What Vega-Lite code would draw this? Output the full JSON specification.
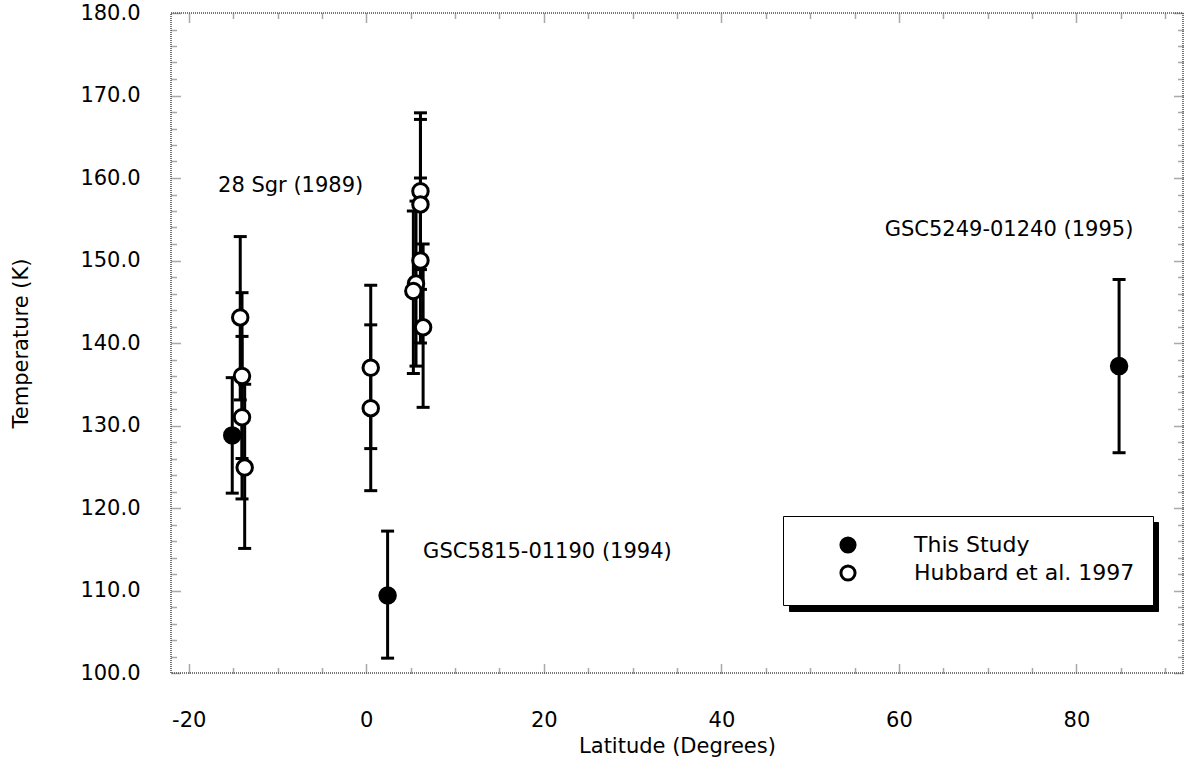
{
  "$schema": "https://vega.github.io/schema/vega-lite/v6.json",
  "width": 1012,
  "height": 660,
  "autosize": {"type": "none"},
  "padding": {"left": 171, "top": 13, "right": 5, "bottom": 96},
  "background": "white",
  "config": {
    "view": {"stroke": "#777", "strokeWidth": 2, "strokeDash": [1, 1]},
    "font": "DejaVu Sans"
  },
  "datasets": {
    "obs": [
      {"lat": -15.1, "temp": 128.8, "lo": 121.8, "hi": 135.8, "source": "This Study", "shade": "s1"},
      {"lat": 2.4, "temp": 109.4, "lo": 101.8, "hi": 117.2, "source": "This Study", "shade": "s1"},
      {"lat": 84.8, "temp": 137.2, "lo": 126.7, "hi": 147.7, "source": "This Study", "shade": "s1"},
      {"lat": -14.2, "temp": 143.1, "lo": 133.1, "hi": 152.9, "source": "Hubbard et al. 1997", "shade": "s2"},
      {"lat": -14.0, "temp": 136.0, "lo": 126.0, "hi": 146.1, "source": "Hubbard et al. 1997", "shade": "s2"},
      {"lat": -14.0, "temp": 131.0, "lo": 121.1, "hi": 140.8, "source": "Hubbard et al. 1997", "shade": "s2"},
      {"lat": -13.7, "temp": 124.9, "lo": 115.1, "hi": 135.0, "source": "Hubbard et al. 1997", "shade": "s2"},
      {"lat": 0.5, "temp": 137.0, "lo": 127.2, "hi": 147.0, "source": "Hubbard et al. 1997", "shade": "s2"},
      {"lat": 0.5, "temp": 132.1, "lo": 122.1, "hi": 142.2, "source": "Hubbard et al. 1997", "shade": "s2"},
      {"lat": 6.1, "temp": 158.4, "lo": 148.9, "hi": 167.9, "source": "Hubbard et al. 1997", "shade": "s2"},
      {"lat": 6.1, "temp": 156.8, "lo": 146.5, "hi": 167.1, "source": "Hubbard et al. 1997", "shade": "s2"},
      {"lat": 6.1, "temp": 150.0, "lo": 140.0, "hi": 160.0, "source": "Hubbard et al. 1997", "shade": "s2"},
      {"lat": 5.6, "temp": 147.2, "lo": 137.2, "hi": 157.2, "source": "Hubbard et al. 1997", "shade": "s2"},
      {"lat": 5.3, "temp": 146.3, "lo": 136.3, "hi": 156.0, "source": "Hubbard et al. 1997", "shade": "s2"},
      {"lat": 6.4, "temp": 141.9, "lo": 132.2, "hi": 152.0, "source": "Hubbard et al. 1997", "shade": "s2"}
    ],
    "notes": [
      {"label": "28 Sgr (1989)", "lat": -16.7, "temp": 159.0},
      {"label": "GSC5815-01190 (1994)", "lat": 6.4, "temp": 114.7},
      {"label": "GSC5249-01240 (1995)", "lat": 58.4, "temp": 153.7}
    ]
  },
  "layer": [
    {
      "data": {"name": "obs"},
      "mark": {"type": "point", "shape": "circle", "opacity": 0},
      "encoding": {
        "x": {"field": "lat", "type": "quantitative", "scale": {"domain": [-22, 92], "nice": false, "zero": false}, "axis": null},
        "y": {"field": "temp", "type": "quantitative", "scale": {"domain": [100, 180], "nice": false, "zero": false}, "axis": null},
        "color": {
          "field": "shade", "type": "nominal",
          "scale": {"domain": ["s1", "s2"], "range": ["black", "black"]},
          "legend": {
            "orient": "none", "legendX": 618, "legendY": 509, "title": null,
            "labelExpr": "'\u00a0\u00a0\u00a0\u00a0'",
            "labelLimit": 500,
            "padding": 18, "fillColor": "black", "strokeColor": "black",
            "labelFontSize": 22, "labelFont": "DejaVu Sans", "labelColor": "black",
            "symbolType": "circle", "symbolSize": 200, "symbolStrokeWidth": 3,
            "symbolOffset": 36, "labelOffset": 275, "rowPadding": 0
          }
        }
      }
    },
    {
      "data": {"name": "obs"},
      "mark": {"type": "errorbar", "color": "black", "opacity": 1, "thickness": 3, "size": 13, "ticks": {"size": 13, "thickness": 3, "color": "black", "opacity": 1}, "rule": {"strokeWidth": 3, "color": "black", "opacity": 1}},
      "encoding": {
        "x": {
          "field": "lat", "type": "quantitative",
          "scale": {"domain": [-22, 92], "nice": false, "zero": false},
          "axis": {
            "values": [-20, -15, -10, -5, 0, 5, 10, 15, 20, 25, 30, 35, 40, 45, 50, 55, 60, 65, 70, 75, 80, 85, 90],
            "labelExpr": "datum.value % 20 === 0 ? '' + datum.value : ''",
            "labelOverlap": false, "labelFontSize": 21, "labelFont": "DejaVu Sans", "labelColor": "black",
            "labelPadding": 45, "labelBound": false, "labelFlush": false,
            "tickSize": {"condition": {"test": "datum.value % 20 === 0", "value": -9}, "value": -5},
            "tickColor": "#555", "tickWidth": 1.5, "tickDash": [1, 1],
            "domain": false, "grid": false,
            "title": "Latitude (Degrees)", "titleFontSize": 21, "titleFont": "DejaVu Sans", "titleFontWeight": "normal", "titleColor": "black", "titlePadding": 1
          }
        },
        "y": {
          "field": "lo", "type": "quantitative",
          "scale": {"domain": [100, 180], "nice": false, "zero": false},
          "axis": {
            "values": [100, 102, 104, 106, 108, 110, 112, 114, 116, 118, 120, 122, 124, 126, 128, 130, 132, 134, 136, 138, 140, 142, 144, 146, 148, 150, 152, 154, 156, 158, 160, 162, 164, 166, 168, 170, 172, 174, 176, 178, 180],
            "labelExpr": "datum.value % 10 === 0 ? format(datum.value, '.1f') : ''",
            "labelOverlap": false, "labelFontSize": 21, "labelFont": "DejaVu Sans", "labelColor": "black",
            "labelPadding": 40, "labelBound": false, "labelFlush": false,
            "tickSize": {"condition": {"test": "datum.value % 10 === 0", "value": -9}, "value": -5},
            "tickColor": "#555", "tickWidth": 1.5, "tickDash": [1, 1],
            "domain": false, "grid": false,
            "title": "Temperature (K)", "titleFontSize": 21, "titleFont": "DejaVu Sans", "titleFontWeight": "normal", "titleColor": "black", "titlePadding": 48
          }
        },
        "y2": {"field": "hi"}
      }
    },
    {
      "data": {"name": "obs"},
      "mark": {"type": "point", "shape": "circle", "size": 240, "stroke": "black", "strokeWidth": 3, "opacity": 1, "filled": true},
      "encoding": {
        "x": {"field": "lat", "type": "quantitative", "axis": null},
        "y": {"field": "temp", "type": "quantitative", "axis": null},
        "fill": {
          "field": "source", "type": "nominal",
          "scale": {"domain": ["This Study", "Hubbard et al. 1997"], "range": ["black", "white"]},
          "legend": {
            "orient": "none", "legendX": 612, "legendY": 503, "title": null,
            "labelLimit": 500,
            "padding": 18, "fillColor": "white", "strokeColor": "black",
            "labelFontSize": 22, "labelFont": "DejaVu Sans", "labelColor": "black",
            "symbolType": "circle", "symbolSize": 200, "symbolStrokeColor": "black", "symbolStrokeWidth": 3,
            "symbolOffset": 36, "labelOffset": 55, "rowPadding": 0
          }
        }
      }
    },
    {
      "data": {"name": "notes"},
      "mark": {"type": "text", "align": "left", "baseline": "middle", "fontSize": 21, "font": "DejaVu Sans", "color": "black"},
      "encoding": {
        "x": {
          "field": "lat", "type": "quantitative",
          "scale": {"domain": [-22, 92], "nice": false, "zero": false},
          "axis": {
            "orient": "top",
            "values": [-20, -15, -10, -5, 0, 5, 10, 15, 20, 25, 30, 35, 40, 45, 50, 55, 60, 65, 70, 75, 80, 85, 90],
            "labels": false, "title": null, "domain": false, "grid": false,
            "tickSize": {"condition": {"test": "datum.value % 20 === 0", "value": -9}, "value": -5},
            "tickColor": "#555", "tickWidth": 1.5, "tickDash": [1, 1]
          }
        },
        "y": {
          "field": "temp", "type": "quantitative",
          "scale": {"domain": [100, 180], "nice": false, "zero": false},
          "axis": {
            "orient": "right",
            "values": [100, 102, 104, 106, 108, 110, 112, 114, 116, 118, 120, 122, 124, 126, 128, 130, 132, 134, 136, 138, 140, 142, 144, 146, 148, 150, 152, 154, 156, 158, 160, 162, 164, 166, 168, 170, 172, 174, 176, 178, 180],
            "labels": false, "title": null, "domain": false, "grid": false,
            "tickSize": {"condition": {"test": "datum.value % 10 === 0", "value": -9}, "value": -5},
            "tickColor": "#555", "tickWidth": 1.5, "tickDash": [1, 1]
          }
        },
        "text": {"field": "label", "type": "nominal"}
      }
    }
  ],
  "resolve": {"axis": {"x": "independent", "y": "independent"}}
}
